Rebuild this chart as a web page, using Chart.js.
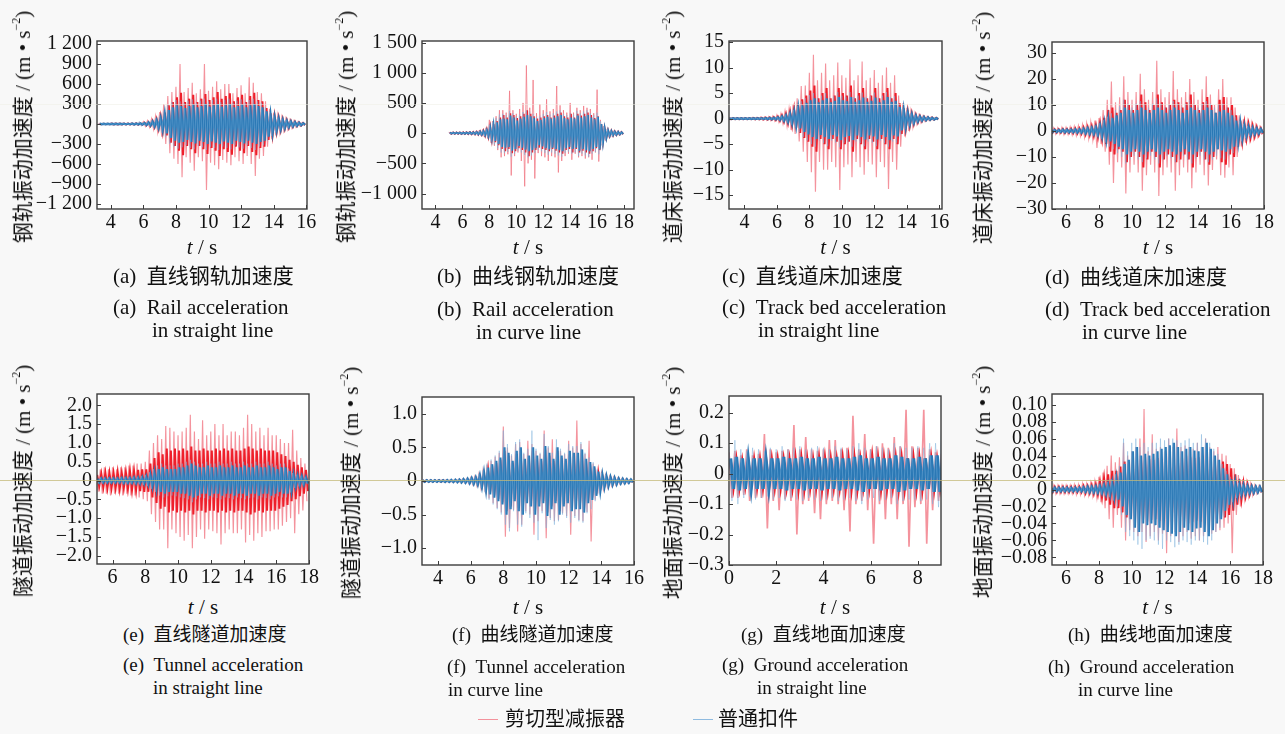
<!DOCTYPE html>
<html>
<head>
<meta charset="utf-8">
<script src="https://cdn.jsdelivr.net/npm/chart.js@4.4.0/dist/chart.umd.min.js"></script>
<style>
  body { margin: 0; width: 1285px; height: 734px; background: #f8f8f8; position: relative; overflow: hidden;
         font-family: "Liberation Serif", "Noto Sans CJK SC", serif; color: #111; }
  canvas { position: absolute; }
  .yt { position: absolute; transform: translate(-50%, -50%) rotate(-90deg); white-space: nowrap; font-size: 21px; line-height: 1; }
  .yt sup { font-size: 12px; vertical-align: 10px; }
  .xt { position: absolute; transform: translate(-50%, -50%); white-space: nowrap; font-size: 21px; line-height: 1; }
  .cap { position: absolute; transform: translateY(-50%); white-space: nowrap; line-height: 1; }
  .leg { position: absolute; transform: translateY(-50%); white-space: nowrap; font-size: 20px; line-height: 1; }
  .swatch { position: absolute; height: 1px; }
  .scan { position: absolute; left: 0; width: 1285px; height: 1px; z-index: 5; }
</style>
</head>
<body>
<script>
// every series is sampled on a 0.25 s grid: Body = dense core half-amplitude,
// Peak / Trough = largest excursion inside that interval
const STEP = 0.25;

// (a) rail, straight line
const aStart = 3.25;
const aShearBody = [4,4,4,5,5,5,6,6,7,8,10, 18,28,45,70,110,170,280,330,400,470, 330,380,440,330,380,450,360,400,480,380, 420,460,340,400,440,330,420,470,360,340, 240,160,115,90,70,55,42,32,24,15];
const aShearPeak = [10,10,10,12,12,12,14,14,16,18,22, 35,50,80,120,180,300,420,480,560,900, 480,540,620,460,520,900,500,560,640,520, 600,600,460,540,580,460,700,620,480,460, 340,230,170,130,100,80,60,46,34,22];
const aShearTrough = [-10,-10,-10,-12,-12,-12,-14,-14,-16,-18,-22, -35,-50,-80,-120,-190,-300,-440,-520,-600,-800, -500,-580,-700,-500,-560,-990,-580,-620,-680,-540, -580,-620,-500,-560,-600,-480,-600,-780,-520,-480, -340,-230,-170,-130,-100,-80,-60,-46,-34,-22];
const aPlainBody = [3,3,3,4,4,4,5,5,6,7,9, 14,22,35,55,85,140,210,250,280,270, 240,270,290,250,270,300,260,280,300,260, 280,300,250,270,290,250,280,300,270,250, 190,130,95,75,58,45,34,25,18,10];
const aPlainPeak = [6,6,6,8,8,8,10,10,12,14,40, 25,35,55,85,130,200,290,330,360,340, 310,350,370,320,350,380,340,360,380,330, 360,380,320,350,370,320,360,380,340,320, 250,180,130,100,80,62,48,36,26,16];
const aPlainTrough = [-6,-6,-6,-8,-8,-8,-10,-10,-12,-14,-35, -25,-35,-55,-85,-130,-200,-300,-340,-370,-350, -320,-360,-380,-330,-350,-390,-340,-360,-390,-340, -360,-380,-320,-350,-370,-320,-360,-390,-340,-320, -250,-180,-130,-100,-80,-62,-48,-36,-26,-16];
const aXTicks = [4, 6, 8, 10, 12, 14, 16];
const aYTicks = [-1200, -900, -600, -300, 0, 300, 600, 900, 1200];

// (b) rail, curve line
const bStart = 5.0;
const bShearBody = [12,12,12,14,14,16,18,20,25,32,45,65, 110,150,200,260,300,260,330,300,250,280,320,380, 320,280,240,260,280,300,260,290,320,340,280,260, 320,260,320,290,320,340,300,250,280,150,80,50, 40,30,25,18];
const bShearPeak = [20,20,20,22,22,25,28,30,36,45,60,90, 220,200,280,380,380,340,700,380,320,400,500,1120, 420,880,330,480,380,560,360,400,780,460,380,340, 500,340,420,380,450,420,400,330,720,220,120,70, 55,42,34,25];
const bShearTrough = [-20,-20,-20,-22,-22,-25,-28,-30,-36,-45,-60,-90, -160,-210,-280,-400,-380,-350,-700,-380,-320,-460,-880,-500, -440,-750,-330,-380,-400,-460,-380,-400,-650,-460,-380,-340, -440,-340,-400,-380,-420,-400,-440,-320,-470,-200,-120,-70, -55,-42,-34,-25];
const bPlainBody = [8,8,8,9,9,10,12,14,18,24,32,50, 90,130,180,230,240,230,290,260,210,240,270,300, 280,250,200,220,250,270,240,260,280,300,250,230, 260,240,290,260,280,300,260,230,270,150,80,45, 35,25,20,14];
const bPlainPeak = [14,14,14,15,15,16,18,22,28,36,48,75, 140,190,250,310,320,300,370,330,280,310,350,380, 360,320,270,290,320,350,310,330,360,380,320,300, 330,310,370,330,360,380,330,300,340,200,110,65, 50,36,28,20];
const bPlainTrough = [-14,-14,-14,-15,-15,-16,-18,-22,-28,-36,-48,-75, -140,-190,-250,-320,-330,-310,-390,-340,-290,-320,-360,-400, -370,-330,-280,-300,-330,-360,-320,-340,-370,-390,-330,-310, -340,-320,-380,-340,-370,-390,-340,-310,-350,-210,-110,-65, -50,-36,-28,-20];
const bXTicks = [4, 6, 8, 10, 12, 14, 16, 18];
const bYTicks = [-1000, -500, 0, 500, 1000, 1500];

// (c) track bed, straight line
const cStart = 3.0;
const cShearBody = [0.1,0.1,0.1,0.1,0.1,0.1,0.12,0.12,0.15,0.18,0.22,0.28, 0.4,0.6,0.9,1.3,1.8,2.8,3.8,4.5,5.5,6.5,4.0,5.0, 6.0,4.0,4.5,6.0,5.0,4.5,6.5,4.0,5.0,6.0,4.0,4.5, 6.0,4.0,5.0,6.0,4.0,5.0,3.0,2.0,1.4,1.0,0.7,0.5, 0.35,0.25,0.2,0.15];
const cShearPeak = [0.2,0.2,0.2,0.2,0.2,0.2,0.25,0.25,0.3,0.35,0.4,0.5, 0.7,1.0,1.5,2.0,2.8,4.0,6.4,6.5,9.0,12.5,7.5,9.0, 10.8,7.5,8.5,11.0,8.5,8.0,11.6,7.5,8.5,11.2,7.5,8.0, 9.5,7.0,8.5,10.0,7.0,8.5,4.5,3.0,2.1,1.5,1.0,0.7, 0.5,0.4,0.3,0.2];
const cShearTrough = [-0.2,-0.2,-0.2,-0.2,-0.2,-0.2,-0.25,-0.25,-0.3,-0.35,-0.4,-0.5, -0.7,-1.0,-1.5,-2.2,-3.0,-4.5,-6.5,-8.5,-10.5,-14.3,-8.5,-10.0, -10.0,-8.5,-9.5,-14.0,-9.5,-9.0,-11.5,-8.5,-9.5,-11.0,-8.5,-9.0, -11.5,-8.5,-9.5,-13.8,-8.5,-10.0,-5.5,-3.5,-2.4,-1.7,-1.1,-0.8, -0.55,-0.4,-0.3,-0.2];
const cPlainBody = [0.05,0.05,0.05,0.05,0.05,0.06,0.06,0.07,0.08,0.1,0.12,0.15, 0.25,0.4,0.6,0.9,1.3,1.9,2.6,3.1,3.6,4.0,3.2,3.6, 4.0,3.2,3.5,4.2,3.6,3.4,4.2,3.3,3.6,4.1,3.3,3.5, 4.1,3.2,3.6,4.2,3.3,3.5,2.3,1.6,1.1,0.8,0.55,0.4, 0.3,0.22,0.16,0.1];
const cPlainPeak = [0.08,0.08,0.08,0.08,0.08,0.09,0.09,0.1,0.12,0.14,0.17,0.22, 0.35,0.55,0.8,1.2,1.7,2.5,3.4,4.0,4.6,5.0,4.0,4.5, 5.0,4.0,4.4,5.2,4.5,4.3,5.2,4.2,4.5,5.1,4.2,4.4, 5.1,4.0,4.5,5.2,4.2,4.4,2.9,2.0,1.4,1.0,0.7,0.5, 0.38,0.28,0.2,0.13];
const cPlainTrough = [-0.08,-0.08,-0.08,-0.08,-0.08,-0.09,-0.09,-0.1,-0.12,-0.14,-0.17,-0.22, -0.35,-0.55,-0.8,-1.2,-1.8,-2.7,-3.6,-4.3,-5.0,-5.5,-4.3,-4.8, -5.4,-4.3,-4.7,-5.6,-4.8,-4.6,-5.5,-4.5,-4.8,-5.4,-4.5,-4.7, -5.4,-4.3,-4.8,-5.5,-4.5,-4.7,-3.1,-2.1,-1.5,-1.1,-0.75,-0.55, -0.4,-0.3,-0.22,-0.14];
const cXTicks = [4, 6, 8, 10, 12, 14, 16];
const cYTicks = [-15, -10, -5, 0, 5, 10, 15];

// (d) track bed, curve line
const dStart = 5.0;
const dShearBody = [0.6,0.6,0.6,0.7,0.7,0.8,0.9,1.0,1.3,1.5,1.8,2.2, 3.0,5.0,8.0,9.0,7.0,8.0,12.0,10.0,8.0,10.0,14.0,11.0, 8.0,10.0,14.0,11.0,9.0,10.0,12.0,11.0,9.0,11.0,14.0,10.0, 8.0,11.0,13.0,10.0,7.0,12.0,13.0,9.0,10.0,6.0,4.0,3.0, 2.5,2.0,1.5,1.0];
const dShearPeak = [1.2,1.2,1.2,1.4,1.4,1.6,1.8,2.0,2.5,3.0,3.5,4.0, 5.0,8.0,12.0,19.0,11.0,13.0,21.0,15.0,12.0,15.0,22.0,16.0, 12.0,15.0,27.0,16.0,13.0,15.0,23.0,16.0,13.0,15.0,20.0,15.0, 12.0,16.0,21.0,14.0,10.0,16.0,20.0,13.0,13.0,9.0,6.0,4.5, 3.5,3.0,2.2,1.5];
const dShearTrough = [-1.2,-1.2,-1.2,-1.4,-1.4,-1.6,-1.8,-2.0,-2.5,-3.0,-3.5,-6.5, -5.0,-8.0,-13.0,-20.0,-12.0,-14.0,-24.0,-16.0,-13.0,-16.0,-23.0,-17.0, -13.0,-16.0,-25.0,-17.0,-14.0,-16.0,-23.0,-17.0,-14.0,-16.0,-22.0,-16.0, -13.0,-17.0,-21.0,-15.0,-11.0,-17.0,-18.0,-14.0,-17.0,-10.0,-6.0,-4.5, -3.5,-3.0,-2.2,-1.5];
const dPlainBody = [0.4,0.4,0.4,0.5,0.5,0.5,0.6,0.6,0.8,1.0,1.1,1.4, 2.0,3.0,4.0,5.0,6.0,7.0,9.0,8.0,7.0,8.0,9.0,8.0, 7.0,8.0,9.0,8.0,7.0,8.0,9.0,8.0,7.0,8.0,9.0,8.0, 7.0,8.0,9.0,8.0,7.0,7.5,8.0,7.0,6.0,4.0,3.0,2.0, 1.5,1.2,0.9,0.7];
const dPlainPeak = [0.7,0.7,0.7,0.8,0.8,0.9,1.0,1.0,1.3,1.6,1.8,2.2, 3.0,4.2,5.5,6.8,8.0,9.5,12.0,10.5,9.0,10.5,11.5,10.0, 9.0,10.5,12.5,10.5,9.0,10.0,11.5,10.5,9.0,10.5,12.0,10.0, 9.0,10.5,11.5,10.5,9.0,10.0,10.5,9.0,8.0,5.5,4.0,2.8, 2.0,1.6,1.2,0.9];
const dPlainTrough = [-0.7,-0.7,-0.7,-0.8,-0.8,-0.9,-1.0,-1.0,-1.3,-1.6,-1.8,-2.2, -3.0,-4.5,-6.0,-7.0,-8.5,-10.0,-12.5,-11.0,-9.5,-11.0,-12.0,-10.5, -9.5,-11.0,-12.5,-11.0,-9.5,-10.5,-12.0,-11.0,-9.5,-11.0,-12.5,-10.5, -9.5,-11.0,-12.0,-11.0,-9.5,-10.5,-11.0,-9.5,-8.5,-6.0,-4.0,-2.8, -2.0,-1.6,-1.2,-0.9];
const dXTicks = [6, 8, 10, 12, 14, 16, 18];
const dYTicks = [-30, -20, -10, 0, 10, 20, 30];

// (e) tunnel, straight line
const eStart = 5.0;
const eShearBody = [0.15,0.18,0.2,0.2,0.2,0.22,0.2,0.22,0.25,0.25,0.28,0.3, 0.3,0.45,0.6,0.75,0.7,0.85,0.8,0.85,0.8,0.85,0.8,0.9, 0.8,0.8,0.85,0.8,0.8,0.85,0.8,0.85,0.8,0.85,0.8,0.8, 0.85,0.9,0.85,0.8,0.85,0.8,0.8,0.8,0.75,0.7,0.65,0.55, 0.5,0.42,0.35,0.28];
const eShearPeak = [0.3,0.3,0.35,0.3,0.35,0.3,0.35,0.35,0.4,0.4,0.45,0.45, 0.5,0.8,1.0,1.2,1.1,1.45,1.4,1.3,1.2,1.3,1.4,1.75, 1.3,1.1,1.6,1.2,1.3,1.5,1.2,1.5,1.2,1.3,1.3,1.2, 1.4,1.75,1.5,1.3,1.4,1.2,1.4,1.2,1.2,1.1,1.0,1.0, 1.35,0.8,0.6,0.45];
const eShearTrough = [-0.3,-0.35,-0.35,-0.4,-0.35,-0.35,-0.4,-0.35,-0.4,-0.4,-0.45,-0.5, -0.55,-0.9,-1.1,-1.3,-1.3,-1.8,-1.3,-1.4,-1.5,-1.6,-1.45,-1.8, -1.5,-1.3,-1.55,-1.3,-1.35,-1.4,-1.7,-1.4,-1.3,-1.4,-1.4,-1.3, -1.65,-1.45,-1.6,-1.4,-1.5,-1.35,-1.35,-1.3,-1.3,-1.2,-1.1,-1.0, -1.4,-0.9,-0.8,-0.55];
const ePlainBody = [0.05,0.05,0.05,0.05,0.05,0.05,0.06,0.06,0.06,0.07,0.07,0.08, 0.1,0.15,0.2,0.3,0.35,0.3,0.3,0.3,0.35,0.35,0.4,0.45, 0.4,0.35,0.35,0.4,0.35,0.35,0.4,0.35,0.35,0.4,0.35,0.35, 0.4,0.35,0.35,0.4,0.35,0.35,0.4,0.35,0.3,0.35,0.35,0.25, 0.15,0.12,0.1,0.08];
const ePlainPeak = [0.08,0.08,0.08,0.08,0.08,0.08,0.09,0.09,0.09,0.1,0.1,0.12, 0.15,0.22,0.3,0.4,0.45,0.4,0.4,0.4,0.45,0.45,0.5,0.55, 0.5,0.45,0.45,0.5,0.45,0.45,0.5,0.45,0.45,0.5,0.45,0.45, 0.5,0.45,0.45,0.5,0.45,0.45,0.5,0.45,0.4,0.45,0.45,0.32, 0.2,0.16,0.13,0.1];
const ePlainTrough = [-0.08,-0.08,-0.08,-0.08,-0.08,-0.08,-0.09,-0.09,-0.09,-0.1,-0.1,-0.12, -0.15,-0.22,-0.3,-0.4,-0.45,-0.42,-0.4,-0.42,-0.45,-0.47,-0.5,-0.58, -0.5,-0.45,-0.47,-0.5,-0.45,-0.47,-0.5,-0.45,-0.47,-0.5,-0.45,-0.47, -0.5,-0.47,-0.45,-0.5,-0.45,-0.47,-0.5,-0.45,-0.42,-0.45,-0.45,-0.32, -0.2,-0.16,-0.13,-0.1];
const eXTicks = [6, 8, 10, 12, 14, 16, 18];
const eYTicks = [-2, -1.5, -1, -0.5, 0, 0.5, 1, 1.5, 2];

// (f) tunnel, curve line
const fStart = 3.0;
const fShearBody = [0.008,0.008,0.008,0.008,0.01,0.01,0.012,0.012,0.014,0.016,0.02,0.025, 0.035,0.045,0.07,0.1,0.17,0.22,0.27,0.32,0.45,0.38,0.27,0.4, 0.45,0.3,0.34,0.45,0.34,0.3,0.47,0.38,0.3,0.45,0.34,0.3, 0.4,0.38,0.38,0.42,0.3,0.25,0.2,0.12,0.08,0.06,0.05,0.04, 0.03,0.025,0.02,0.016];
const fShearPeak = [0.012,0.012,0.012,0.012,0.015,0.015,0.018,0.018,0.02,0.024,0.03,0.036, 0.05,0.065,0.1,0.15,0.24,0.3,0.36,0.42,0.81,0.5,0.38,0.55, 0.58,0.4,0.6,0.55,0.45,0.4,0.75,0.5,0.62,0.5,0.45,0.4, 0.6,0.5,0.9,0.55,0.4,0.6,0.26,0.16,0.11,0.08,0.065,0.055, 0.04,0.035,0.028,0.022];
const fShearTrough = [-0.012,-0.012,-0.012,-0.012,-0.015,-0.015,-0.018,-0.018,-0.02,-0.024,-0.03,-0.036, -0.05,-0.065,-0.1,-0.16,-0.26,-0.33,-0.4,-0.47,-0.83,-0.7,-0.43,-0.75, -0.65,-0.45,-0.5,-0.8,-0.6,-0.45,-0.85,-0.55,-0.6,-0.58,-0.48,-0.52, -0.8,-0.52,-0.58,-0.6,-0.46,-0.9,-0.28,-0.18,-0.12,-0.095,-0.07,-0.056, -0.042,-0.036,-0.03,-0.024];
const fPlainBody = [0.01,0.01,0.01,0.01,0.012,0.012,0.014,0.015,0.017,0.02,0.025,0.03, 0.04,0.05,0.08,0.12,0.2,0.25,0.3,0.35,0.5,0.42,0.3,0.45, 0.5,0.33,0.38,0.5,0.38,0.33,0.52,0.42,0.33,0.5,0.38,0.33, 0.45,0.42,0.42,0.47,0.33,0.28,0.22,0.14,0.09,0.07,0.055,0.045, 0.035,0.03,0.025,0.02];
const fPlainPeak = [0.015,0.015,0.015,0.015,0.018,0.018,0.02,0.022,0.025,0.03,0.035,0.04, 0.055,0.07,0.11,0.16,0.26,0.32,0.38,0.45,0.75,0.55,0.4,0.58, 0.62,0.42,0.48,0.75,0.48,0.42,0.7,0.52,0.42,0.62,0.48,0.42, 0.55,0.52,0.52,0.58,0.42,0.35,0.28,0.18,0.12,0.09,0.07,0.06, 0.045,0.04,0.032,0.025];
const fPlainTrough = [-0.015,-0.015,-0.015,-0.015,-0.018,-0.018,-0.02,-0.022,-0.025,-0.03,-0.035,-0.04, -0.055,-0.07,-0.11,-0.17,-0.28,-0.35,-0.42,-0.5,-0.65,-0.75,-0.45,-0.65, -0.68,-0.48,-0.55,-0.62,-0.88,-0.48,-0.7,-0.58,-0.65,-0.6,-0.5,-0.55, -0.62,-0.55,-0.6,-0.62,-0.48,-0.42,-0.3,-0.2,-0.13,-0.1,-0.075,-0.06, -0.045,-0.04,-0.032,-0.025];
const fXTicks = [4, 6, 8, 10, 12, 14, 16];
const fYTicks = [-1, -0.5, 0, 0.5, 1];

// (g) ground, straight line
const gStart = 0;
const gShearBody = [0.04,0.04,0.035,0.04,0.04,0.04,0.045,0.04,0.04,0.04, 0.04,0.045,0.045,0.04,0.04,0.045,0.045,0.04,0.04,0.045, 0.045,0.045,0.04,0.04,0.05,0.045,0.045,0.04,0.045,0.045, 0.05,0.045,0.045,0.05,0.045,0.04,0.04];
const gShearPeak = [0.07,0.075,0.06,0.08,0.06,0.065,0.13,0.08,0.07,0.075, 0.08,0.16,0.08,0.12,0.08,0.075,0.08,0.11,0.11,0.08, 0.085,0.19,0.08,0.13,0.08,0.09,0.1,0.085,0.12,0.09, 0.21,0.09,0.085,0.21,0.08,0.07,0.065];
const gShearTrough = [-0.08,-0.08,-0.07,-0.09,-0.08,-0.08,-0.18,-0.09,-0.12,-0.085, -0.09,-0.2,-0.1,-0.09,-0.13,-0.15,-0.1,-0.09,-0.1,-0.12, -0.19,-0.1,-0.09,-0.12,-0.23,-0.1,-0.15,-0.1,-0.15,-0.1, -0.24,-0.11,-0.1,-0.23,-0.12,-0.09,-0.08];
const gPlainBody = [0.05,0.055,0.05,0.045,0.05,0.05,0.045,0.05,0.05,0.055, 0.05,0.05,0.055,0.05,0.05,0.055,0.05,0.05,0.055,0.05, 0.05,0.055,0.06,0.05,0.05,0.055,0.05,0.05,0.06,0.055, 0.05,0.05,0.055,0.05,0.06,0.06,0.065];
const gPlainPeak = [0.09,0.11,0.08,0.075,0.085,0.08,0.075,0.085,0.08,0.09, 0.08,0.085,0.09,0.08,0.085,0.09,0.085,0.08,0.09,0.085, 0.08,0.09,0.1,0.085,0.08,0.09,0.085,0.08,0.1,0.09, 0.085,0.085,0.09,0.085,0.1,0.1,0.15];
const gPlainTrough = [-0.09,-0.1,-0.08,-0.075,-0.085,-0.08,-0.075,-0.085,-0.08,-0.09, -0.08,-0.085,-0.09,-0.08,-0.085,-0.09,-0.085,-0.08,-0.09,-0.085, -0.08,-0.09,-0.1,-0.085,-0.08,-0.09,-0.085,-0.08,-0.1,-0.09, -0.085,-0.085,-0.09,-0.085,-0.1,-0.11,-0.18];
const gXTicks = [0, 2, 4, 6, 8];
const gYTicks = [-0.3, -0.2, -0.1, 0, 0.1, 0.2];

// (h) ground, curve line
const hStart = 5.0;
const hShearBody = [0.003,0.003,0.003,0.003,0.003,0.003,0.003,0.003,0.004,0.004,0.005,0.006, 0.009,0.013,0.018,0.022,0.022,0.027,0.033,0.03,0.032,0.035,0.036,0.038, 0.036,0.035,0.037,0.036,0.035,0.038,0.037,0.036,0.038,0.04,0.038,0.037, 0.038,0.04,0.042,0.038,0.035,0.034,0.033,0.03,0.025,0.018,0.012,0.008, 0.006,0.004,0.003,0.003];
const hShearPeak = [0.005,0.005,0.005,0.005,0.005,0.005,0.006,0.006,0.007,0.007,0.008,0.01, 0.015,0.02,0.028,0.04,0.032,0.038,0.055,0.04,0.045,0.05,0.06,0.095, 0.045,0.065,0.048,0.05,0.045,0.06,0.05,0.072,0.05,0.052,0.05,0.048, 0.055,0.05,0.06,0.05,0.045,0.05,0.042,0.04,0.03,0.025,0.017,0.012, 0.009,0.007,0.005,0.004];
const hShearTrough = [-0.005,-0.005,-0.005,-0.005,-0.005,-0.005,-0.006,-0.006,-0.007,-0.007,-0.008,-0.01, -0.015,-0.022,-0.035,-0.045,-0.03,-0.045,-0.06,-0.048,-0.05,-0.055,-0.05,-0.062, -0.055,-0.05,-0.06,-0.052,-0.075,-0.055,-0.05,-0.062,-0.055,-0.05,-0.058,-0.055, -0.06,-0.055,-0.05,-0.052,-0.05,-0.048,-0.045,-0.04,-0.075,-0.03,-0.02,-0.012, -0.009,-0.007,-0.005,-0.004];
const hPlainBody = [0.002,0.002,0.002,0.002,0.002,0.002,0.002,0.002,0.0025,0.003,0.003,0.0035, 0.004,0.005,0.006,0.008,0.012,0.02,0.03,0.035,0.045,0.05,0.04,0.042, 0.04,0.042,0.045,0.048,0.05,0.052,0.055,0.05,0.045,0.048,0.05,0.046, 0.045,0.05,0.055,0.048,0.04,0.035,0.025,0.018,0.012,0.008,0.006,0.005, 0.004,0.0035,0.003,0.003];
const hPlainPeak = [0.003,0.003,0.003,0.003,0.003,0.003,0.003,0.003,0.004,0.004,0.005,0.005, 0.006,0.007,0.009,0.012,0.018,0.028,0.06,0.045,0.055,0.06,0.05,0.055, 0.05,0.055,0.055,0.06,0.058,0.06,0.06,0.058,0.055,0.058,0.06,0.055, 0.055,0.065,0.06,0.055,0.048,0.042,0.03,0.022,0.015,0.01,0.008,0.006, 0.005,0.0045,0.004,0.004];
const hPlainTrough = [-0.003,-0.003,-0.003,-0.003,-0.003,-0.003,-0.003,-0.003,-0.004,-0.004,-0.005,-0.005, -0.006,-0.007,-0.009,-0.013,-0.02,-0.03,-0.05,-0.055,-0.06,-0.065,-0.07,-0.06, -0.058,-0.06,-0.065,-0.07,-0.06,-0.062,-0.068,-0.065,-0.06,-0.062,-0.065,-0.06, -0.06,-0.062,-0.065,-0.06,-0.05,-0.045,-0.032,-0.022,-0.015,-0.01,-0.008,-0.006, -0.005,-0.0045,-0.004,-0.004];
const hXTicks = [6, 8, 10, 12, 14, 16, 18];
const hYTicks = [-0.08, -0.06, -0.04, -0.02, 0, 0.02, 0.04, 0.06, 0.08, 0.1];

// colours
const RED = '#ee1f2a';
const PINK = 'rgba(241,120,132,0.8)';
const BLUE = '#2a78b5';
const PALE_BLUE = 'rgba(125,176,220,0.6)';
const INK = '#111111';
const FRAME_INK = '#3c3c3c';
const TICK_FONT = { family: '"Liberation Serif", serif', size: 20 };

// plot box in page pixels: [left, top, right, bottom]
const panels = [
  { start: aStart, shear: [aShearBody, aShearPeak, aShearTrough], plain: [aPlainBody, aPlainPeak, aPlainTrough],
    xTicks: aXTicks, yTicks: aYTicks, box: [97, 41, 307, 209], xr: [3.15, 16.05], yr: [-1275, 1245], dec: 0,
    titleX: 22, title: '钢轨振动加速度' },
  { start: bStart, shear: [bShearBody, bShearPeak, bShearTrough], plain: [bPlainBody, bPlainPeak, bPlainTrough],
    xTicks: bXTicks, yTicks: bYTicks, box: [422, 41, 634, 209], xr: [3.0, 18.74], yr: [-1255, 1525], dec: 0,
    titleX: 345, title: '钢轨振动加速度' },
  { start: cStart, shear: [cShearBody, cShearPeak, cShearTrough], plain: [cPlainBody, cPlainPeak, cPlainTrough],
    xTicks: cXTicks, yTicks: cYTicks, box: [729, 41, 942, 209], xr: [3.05, 16.17], yr: [-17.7, 15.2], dec: 0,
    titleX: 672, title: '道床振动加速度' },
  { start: dStart, shear: [dShearBody, dShearPeak, dShearTrough], plain: [dPlainBody, dPlainPeak, dPlainTrough],
    xTicks: dXTicks, yTicks: dYTicks, box: [1052, 42, 1264, 209], xr: [5.15, 18.0], yr: [-30, 34.2], dec: 0,
    titleX: 982, title: '道床振动加速度' },
  { start: eStart, shear: [eShearBody, eShearPeak, eShearTrough], plain: [ePlainBody, ePlainPeak, ePlainTrough],
    xTicks: eXTicks, yTicks: eYTicks, box: [97, 394, 309, 564], xr: [5.05, 18.0], yr: [-2.22, 2.3], dec: 1,
    titleX: 22, title: '隧道振动加速度' },
  { start: fStart, shear: [fShearBody, fShearPeak, fShearTrough], plain: [fPlainBody, fPlainPeak, fPlainTrough],
    xTicks: fXTicks, yTicks: fYTicks, box: [422, 397, 634, 565], xr: [3.02, 16.0], yr: [-1.25, 1.25], dec: 1,
    titleX: 350, title: '隧道振动加速度' },
  { start: gStart, shear: [gShearBody, gShearPeak, gShearTrough], plain: [gPlainBody, gPlainPeak, gPlainTrough],
    xTicks: gXTicks, yTicks: gYTicks, box: [729, 396, 941, 565], xr: [0, 8.98], yr: [-0.3, 0.255], dec: 1,
    titleX: 672, title: '地面振动加速度' },
  { start: hStart, shear: [hShearBody, hShearPeak, hShearTrough], plain: [hPlainBody, hPlainPeak, hPlainTrough],
    xTicks: hXTicks, yTicks: hYTicks, box: [1052, 394, 1263, 565], xr: [5.14, 18.0], yr: [-0.089, 0.1126], dec: 2,
    titleX: 982, title: '地面振动加速度' }
];

// caption lines: [html, left, centre y, font size]
const captions = [
  ['(a)&nbsp;&nbsp;直线钢轨加速度', 113, 276, 21], ['(a)&nbsp;&nbsp;Rail acceleration', 113, 307, 21], ['in straight line', 152, 330, 21],
  ['(b)&nbsp;&nbsp;曲线钢轨加速度', 437, 276, 21], ['(b)&nbsp;&nbsp;Rail acceleration', 437, 309, 21], ['in curve line', 476, 332, 21],
  ['(c)&nbsp;&nbsp;直线道床加速度', 722, 276, 21], ['(c)&nbsp;&nbsp;Track bed acceleration', 722, 307, 21], ['in straight line', 758, 330, 21],
  ['(d)&nbsp;&nbsp;曲线道床加速度', 1045, 277, 21], ['(d)&nbsp;&nbsp;Track bed acceleration', 1045, 309, 21], ['in curve line', 1082, 332, 21],
  ['(e)&nbsp;&nbsp;直线隧道加速度', 123, 634, 19], ['(e)&nbsp;&nbsp;Tunnel acceleration', 123, 664, 19], ['in straight line', 153, 687, 19],
  ['(f)&nbsp;&nbsp;曲线隧道加速度', 452, 634, 19], ['(f)&nbsp;&nbsp;Tunnel acceleration', 447, 666, 19], ['in curve line', 448, 689, 19],
  ['(g)&nbsp;&nbsp;直线地面加速度', 741, 634, 19], ['(g)&nbsp;&nbsp;Ground acceleration', 722, 664, 19], ['in straight line', 757, 687, 19],
  ['(h)&nbsp;&nbsp;曲线地面加速度', 1068, 634, 19], ['(h)&nbsp;&nbsp;Ground acceleration', 1048, 666, 19], ['in curve line', 1078, 689, 19]
];

const Y_W = 75, X_H = 30, PAD_T = 20, PAD_R = 16;

function fmt(v, dec) {
  if (Math.abs(v) < 1e-9) return '0';
  let s = Math.abs(v).toFixed(dec);
  if (dec === 0) s = s.replace(/\B(?=(\d{3})+(?!\d))/g, ' ');
  return (v < 0 ? '\u2212' : '') + s;
}

// peak / trough pairs become one back-and-forth trace
function trace(start, peak, trough) {
  const pts = [];
  peak.forEach((v, i) => {
    pts.push({ x: start + i * STEP, y: v });
    pts.push({ x: start + (i + 0.5) * STEP, y: trough[i] });
  });
  return pts;
}

// dense core swings between +body and -body, a quarter step out of phase with the peaks
function core(start, body) {
  const pts = [];
  body.forEach((v, i) => {
    pts.push({ x: start + (i + 0.25) * STEP, y: v });
    pts.push({ x: start + (i + 0.75) * STEP, y: -v });
  });
  return pts;
}

const framePlugin = {
  id: 'frame',
  beforeDraw(chart) {
    const { ctx, chartArea: a } = chart;
    ctx.save();
    ctx.fillStyle = '#ffffff';
    ctx.fillRect(a.left, a.top, a.width, a.height);
    ctx.restore();
  },
  afterDraw(chart) {
    const { ctx, chartArea: a, scales: { x, y } } = chart;
    ctx.save();
    ctx.strokeStyle = FRAME_INK;
    ctx.lineWidth = 1;
    ctx.beginPath();
    x.ticks.forEach(t => {
      const px = Math.round(x.getPixelForValue(t.value)) + 0.5;
      ctx.moveTo(px, a.bottom); ctx.lineTo(px, a.bottom - 4);
    });
    y.ticks.forEach(t => {
      const py = Math.round(y.getPixelForValue(t.value)) + 0.5;
      ctx.moveTo(a.left, py); ctx.lineTo(a.left + 4, py);
    });
    ctx.stroke();
    ctx.lineWidth = 1.4;
    ctx.strokeRect(a.left, a.top, a.width, a.height);
    ctx.restore();
  }
};

function addDiv(cls, html, css) {
  const d = document.createElement('div');
  d.className = cls;
  d.innerHTML = html;
  d.style.cssText = css;
  document.body.appendChild(d);
  return d;
}

panels.forEach(p => {
  const [l, t, r, b] = p.box;
  const cv = document.createElement('canvas');
  cv.width = Y_W + (r - l) + PAD_R;
  cv.height = PAD_T + (b - t) + X_H;
  cv.style.left = (l - Y_W) + 'px';
  cv.style.top = (t - PAD_T) + 'px';
  document.body.appendChild(cv);

  const [sBody, sPeak, sTrough] = p.shear;
  const [pBody, pPeak, pTrough] = p.plain;
  // stroke widths follow how many pixels one sample step spans
  const stepPx = STEP * (r - l) / (p.xr[1] - p.xr[0]);

  new Chart(cv, {
    type: 'line',
    data: {
      datasets: [
        { label: '普通扣件', data: trace(p.start, pPeak, pTrough), borderColor: PALE_BLUE, borderWidth: 0.8, order: 0 },
        { data: core(p.start, pBody), borderColor: BLUE, borderWidth: 0.6 * stepPx, order: 1 },
        { data: core(p.start, sBody), borderColor: RED, borderWidth: 0.5 * stepPx, order: 2 },
        { label: '剪切型减振器', data: trace(p.start, sPeak, sTrough), borderColor: PINK, borderWidth: 0.28 * stepPx, order: 3 }
      ]
    },
    options: {
      responsive: false,
      animation: false,
      devicePixelRatio: 1,
      layout: { padding: { left: 0, top: PAD_T, right: PAD_R, bottom: 0 } },
      elements: { point: { radius: 0 }, line: { tension: 0 } },
      plugins: { legend: { display: false }, tooltip: { enabled: false } },
      scales: {
        x: {
          type: 'linear', min: p.xr[0], max: p.xr[1],
          afterBuildTicks: s => { s.ticks = p.xTicks.map(v => ({ value: v })); },
          afterFit: s => { s.height = X_H; },
          grid: { display: false, drawTicks: false },
          border: { display: false },
          ticks: { font: TICK_FONT, color: INK, padding: 2, maxRotation: 0, autoSkip: false, callback: v => String(v) }
        },
        y: {
          type: 'linear', min: p.yr[0], max: p.yr[1],
          afterBuildTicks: s => { s.ticks = p.yTicks.map(v => ({ value: v })); },
          afterFit: s => { s.width = Y_W; },
          grid: { display: false, drawTicks: false },
          border: { display: false },
          ticks: { font: TICK_FONT, color: INK, padding: 5, autoSkip: false, callback: v => fmt(v, p.dec) }
        }
      }
    },
    plugins: [framePlugin]
  });

  // axis titles
  addDiv('yt', p.title + ' / (m • s<sup>\u22122</sup>)', `left:${p.titleX}px;top:${(t + b) / 2 + 2}px`);
  addDiv('xt', '<i>t</i> / s', `left:${(l + r) / 2}px;top:${t < 300 ? 247 : 607}px`);
});

captions.forEach(([html, x, y, size]) => {
  addDiv('cap', html, `left:${x}px;top:${y}px;font-size:${size}px`);
});

// shared legend
addDiv('swatch', '', `left:478px;top:719px;width:20px;background:${PINK}`);
addDiv('leg', '剪切型减振器', 'left:505px;top:719px');
addDiv('swatch', '', `left:693px;top:719px;width:20px;background:rgba(125,176,220,0.85)`);
addDiv('leg', '普通扣件', 'left:718px;top:719px');

// faint scan lines running across the sheet
addDiv('scan', '', 'top:104px;background:rgba(238,238,228,0.5)');
addDiv('scan', '', 'top:480px;background:rgba(196,186,120,0.75)');
</script>
</body>
</html>
